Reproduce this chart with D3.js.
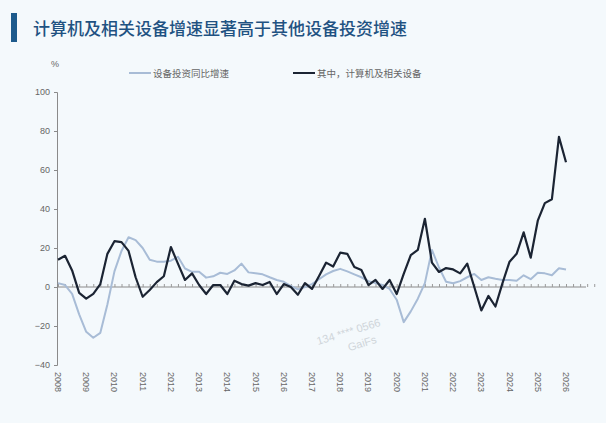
<!DOCTYPE html>
<html>
<head>
<meta charset="utf-8">
<script src="https://cdn.jsdelivr.net/npm/d3@7"></script>
<style>
  body { margin: 0; background: #f4f9fc; }
  svg { display: block; }
</style>
</head>
<body>
<svg id="chart" width="606" height="423"></svg>
<script>
// year labels on the x axis
var years = [2008, 2009, 2010, 2011, 2012, 2013, 2014, 2015, 2016, 2017,
             2018, 2019, 2020, 2021, 2022, 2023, 2024, 2025, 2026];
var yTicks = [-40, -20, 0, 20, 40, 60, 80, 100];

// quarterly values, 2008Q1 .. 2026Q1 (%)
var equipment = [2, 1, -3.5, -14, -23, -26, -23.5, -9,
  8, 18.5, 25.5, 24, 20, 14, 13, 13,
  13.5, 15.5, 9.5, 7.8, 7.8, 4.8, 5.5, 7.3,
  6.7, 8.5, 12, 7.5, 7, 6.5, 5, 3.6,
  2.7, 0.5, -1.2, 0, 1.5, 4, 6.5, 8.2,
  9.3, 8, 6.5, 5, 3, 2, 1, -1,
  -6.5, -18, -12.5, -6, 2, 19, 10, 2.7,
  1.9, 3, 5, 6.7, 3.6, 5, 4.2, 3.6,
  3.6, 3.2, 6, 4, 7.3, 7, 6, 9.6,
  9];
var computer = [14, 16, 8.5, -3, -6, -3.5, 1.5, 17,
  23.5, 23, 18.5, 5, -5, -1.5, 2.5, 5.5,
  20.5, 12, 3.6, 7, 1, -3.6, 1, 1,
  -3.6, 3.2, 1.5, 0.7, 2, 1, 2.6, -3.6,
  1.5, 0, -4, 2, -1, 5.6, 12.5, 10.5,
  17.6, 17, 10.3, 8.7, 1, 3.6, -1, 3.6,
  -3.6, 6.7, 16.4, 19, 35, 12.5, 7.7, 9.7,
  9, 7, 12, 0, -12, -4.6, -10, 2,
  13, 17, 28, 15, 34, 43, 45, 77,
  64];

var svg = d3.select("#chart");

// time position of each quarter
var quarters = equipment.map((d, i) => 2008 + i / 4);

var x = d3.scaleLinear().domain([2008, 2026]).range([58, 566]);
var y = d3.scaleLinear().domain([-40, 100]).range([365, 92]);

// title
svg.append("rect")
  .attr("x", 11).attr("y", 13)
  .attr("width", 6).attr("height", 29)
  .attr("fill", "#1d5a8c");
svg.append("text")
  .attr("x", 33).attr("y", 35)
  .attr("font-family", "Noto Sans CJK SC")
  .attr("font-size", "17px")
  .attr("font-weight", 500)
  .attr("fill", "#1f5282")
  .text("计算机及相关设备增速显著高于其他设备投资增速");

// unit
svg.append("text")
  .attr("x", 51).attr("y", 67)
  .attr("font-family", "Liberation Sans")
  .attr("font-size", "9px")
  .attr("fill", "#666")
  .text("%");

// legend
var legend = [
  {name: "设备投资同比增速", color: "#a8bcd6", x: 129},
  {name: "其中，计算机及相关设备", color: "#1b2433", x: 293}
];
legend.forEach(function(l) {
  svg.append("line")
    .attr("x1", l.x).attr("x2", l.x + 22)
    .attr("y1", 73).attr("y2", 73)
    .attr("stroke", l.color).attr("stroke-width", 2);
  svg.append("text")
    .attr("x", l.x + 24).attr("y", 77)
    .attr("font-family", "Noto Sans CJK SC")
    .attr("font-size", "9.5px")
    .attr("fill", "#666")
    .text(l.name);
});

// y axis
var yAxis = d3.axisLeft(y).tickValues(yTicks).tickSize(3).tickPadding(4);
var gy = svg.append("g")
  .attr("transform", "translate(57,0)")
  .call(yAxis);
gy.select(".domain").attr("stroke", "#8a8a8a");
gy.selectAll(".tick line").attr("stroke", "#8a8a8a");
gy.selectAll(".tick text")
  .attr("font-family", "Liberation Sans")
  .attr("font-size", "9px")
  .attr("fill", "#666");

// zero line with quarter ticks
var qTicks = d3.range(0, 77).map(i => 2008 + i / 4);
var zeroAxis = d3.axisTop(x).tickValues(qTicks).tickFormat("").tickSizeInner(3).tickSizeOuter(0);
var gz = svg.append("g")
  .attr("transform", "translate(0," + y(0) + ")")
  .call(zeroAxis);
gz.select(".domain").attr("stroke", "#8a8a8a").attr("d", "M57,0H586");
gz.selectAll(".tick line").attr("stroke", "#9a9a9a");

// year labels, rotated
svg.append("g").selectAll("text")
  .data(years)
  .enter().append("text")
  .attr("transform", d => "translate(" + (x(d) - 3) + ",372) rotate(90)")
  .attr("font-family", "Liberation Sans")
  .attr("font-size", "9px")
  .attr("fill", "#666")
  .text(d => d);

// lines
var line = d3.line()
  .x((d, i) => x(quarters[i]))
  .y(d => y(d));

svg.append("path")
  .datum(equipment)
  .attr("fill", "none")
  .attr("stroke", "#a8bcd6")
  .attr("stroke-width", 2)
  .attr("stroke-linejoin", "round")
  .attr("d", line);

svg.append("path")
  .datum(computer)
  .attr("fill", "none")
  .attr("stroke", "#1b2433")
  .attr("stroke-width", 2.2)
  .attr("stroke-linejoin", "round")
  .attr("d", line);

// watermark
var wm = svg.append("g")
  .attr("transform", "translate(318,345) rotate(-17)")
  .attr("font-family", "Liberation Sans")
  .attr("fill", "#cfd5da");
wm.append("text").attr("font-size", "11px").text("134 **** 0566");
wm.append("text").attr("x", 28).attr("y", 15).attr("font-size", "11px").text("GaiFs");
</script>
</body>
</html>
